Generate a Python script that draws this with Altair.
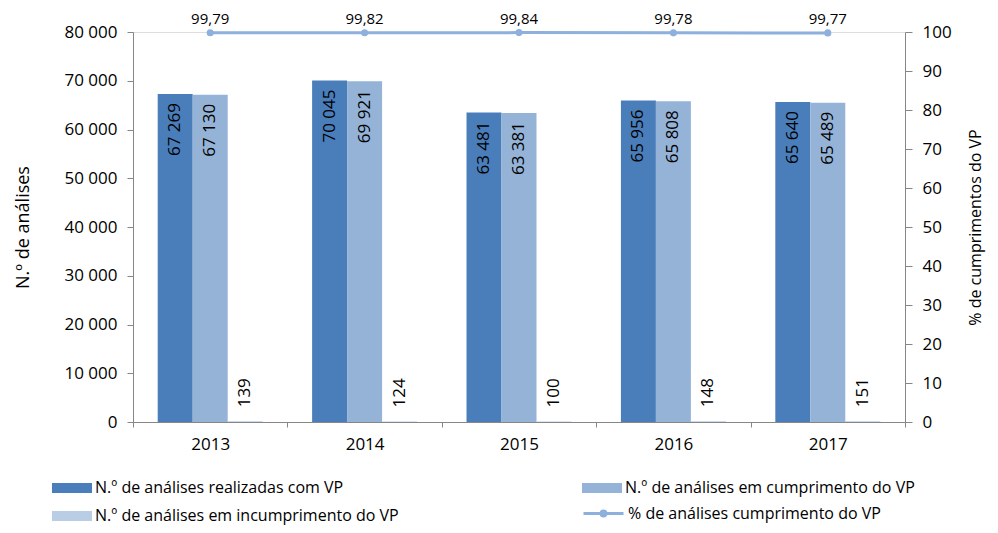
import altair as alt
import pandas as pd

# ---- data ----
years = ["2013", "2014", "2015", "2016", "2017"]
series_names = [
    "N.º de análises realizadas com VP",
    "N.º de análises em cumprimento do VP",
    "N.º de análises em incumprimento do VP",
]
realizadas = [67269, 70045, 63481, 65956, 65640]
cumprimento = [67130, 69921, 63381, 65808, 65489]
incumprimento = [139, 124, 100, 148, 151]
pct_cumprimento = [99.79, 99.82, 99.84, 99.78, 99.77]
line_name = "% de análises cumprimento do VP"

bar_colors = ["#4A7EBB", "#95B3D7", "#B9CDE5"]
line_color = "#8DB0DC"
axis_grey = "#868686"
FONT = "Open Sans"

rows = []
for i, yr in enumerate(years):
    for s, vals in zip(series_names, [realizadas, cumprimento, incumprimento]):
        rows.append({"ano": yr, "serie": s, "valor": vals[i]})
bars_df = pd.DataFrame(rows)
line_df = pd.DataFrame({"ano": years, "pct": pct_cumprimento, "serie": [line_name] * len(years)})

# legend is laid out column by column: realizadas, incumprimento | cumprimento
legend_order = [series_names[0], series_names[2], series_names[1]]
legend_colors = [bar_colors[0], bar_colors[2], bar_colors[1]]

# ---- encodings ----
x_enc = alt.X(
    "ano:N",
    title=None,
    scale=alt.Scale(paddingInner=0, paddingOuter=0),
    axis=alt.Axis(
        labelAngle=0, tickBand="extent", domainColor=axis_grey, tickColor=axis_grey,
        tickSize=5, labelPadding=9, labelFontSize=17, labelFont=FONT, labelColor="black",
    ),
)
xoff_enc = alt.XOffset(
    "serie:N", sort=series_names,
    scale=alt.Scale(domain=series_names, paddingOuter=0.706, paddingInner=0),
)
y_bar = alt.Y(
    "valor:Q",
    scale=alt.Scale(domain=[0, 80000]),
    axis=alt.Axis(
        values=list(range(0, 80001, 10000)),
        labelExpr="replace(format(datum.value, ',d'), ',', ' ')",
        title="N.º de análises", grid=False, domainColor=axis_grey, tickColor=axis_grey,
        tickSize=6, labelPadding=10, labelFont=FONT, labelFontSize=17, labelColor="black",
        titleFont=FONT, titleFontSize=18, titleFontWeight="normal", titleColor="black",
        titlePadding=31,
    ),
)

bars = alt.Chart(bars_df).mark_bar().encode(
    x=x_enc,
    xOffset=xoff_enc,
    y=y_bar,
    color=alt.Color(
        "serie:N",
        sort=legend_order,
        scale=alt.Scale(domain=legend_order, range=legend_colors),
        legend=alt.Legend(
            title=None, orient="none", legendX=-81, legendY=436, columns=2,
            columnPadding=183, rowPadding=-16, padding=0,
            symbolType="M-1,-0.25H1V0.25H-1Z", symbolSize=1600, symbolStrokeWidth=0,
            labelFont=FONT, labelFontSize=16, labelColor="black", labelOffset=3, labelLimit=600,
        ),
    ),
)

label_calc = "replace(format(datum.valor, ',d'), ',', ' ')"

text_big = alt.Chart(bars_df).transform_filter(
    alt.FieldOneOfPredicate(field="serie", oneOf=series_names[:2])
).transform_calculate(rotulo=label_calc).mark_text(
    angle=270, align="right", baseline="middle", dx=-9, font=FONT, fontSize=17, color="black"
).encode(x=x_enc, xOffset=xoff_enc, y=y_bar, text="rotulo:N")

text_small = alt.Chart(bars_df).transform_filter(
    alt.FieldEqualPredicate(field="serie", equal=series_names[2])
).transform_calculate(rotulo=label_calc).mark_text(
    angle=270, align="left", baseline="middle", dx=14, font=FONT, fontSize=17, color="black"
).encode(x=x_enc, xOffset=xoff_enc, y=y_bar, text="rotulo:N")

bar_layer = alt.layer(bars, text_big, text_small)

y_line = alt.Y(
    "pct:Q",
    scale=alt.Scale(domain=[0, 100]),
    axis=alt.Axis(
        orient="right", values=list(range(0, 101, 10)), grid=False,
        title="% de  cumprimentos do VP", titleAngle=270,
        domainColor=axis_grey, tickColor=axis_grey, tickSize=7, labelPadding=10,
        labelFont=FONT, labelFontSize=17, labelColor="black",
        titleFont=FONT, titleFontSize=16, titleFontWeight="normal", titleColor="black",
        titlePadding=32,
    ),
)

line = alt.Chart(line_df).mark_line(
    strokeWidth=3,
    point=alt.OverlayMarkDef(filled=True, size=50, color=line_color),
).encode(
    x=x_enc,
    y=y_line,
    color=alt.Color(
        "serie:N",
        scale=alt.Scale(domain=[line_name], range=[line_color]),
        legend=alt.Legend(
            title=None, orient="none", legendX=449, legendY=460, padding=0,
            symbolType="M-1,0H1M-0.12,0A0.12,0.12 0 1,0 0.12,0A0.12,0.12 0 1,0 -0.12,0",
            symbolSize=1600, symbolStrokeWidth=3, symbolFillColor=line_color,
            symbolStrokeColor=line_color,
            labelFont=FONT, labelFontSize=16, labelColor="black", labelOffset=3, labelLimit=600,
        ),
    ),
)

line_text = alt.Chart(line_df).transform_calculate(
    rotulo="replace(format(datum.pct, '.2f'), '.', ',')"
).mark_text(dy=-14, font=FONT, fontSize=15, color="black").encode(
    x=x_enc, y=y_line, text="rotulo:N"
)

line_layer = alt.layer(line, line_text)

chart = alt.layer(bar_layer, line_layer).resolve_scale(
    y="independent", color="independent"
).properties(
    width=772, height=390,
    autosize=alt.AutoSizeParams(type="none"),
    padding={"left": 125, "top": 24, "right": 85, "bottom": 103},
).configure_view(stroke=None).configure(background="white")

chart.save("out.html", embed_options={"renderer": "svg", "actions": False})
